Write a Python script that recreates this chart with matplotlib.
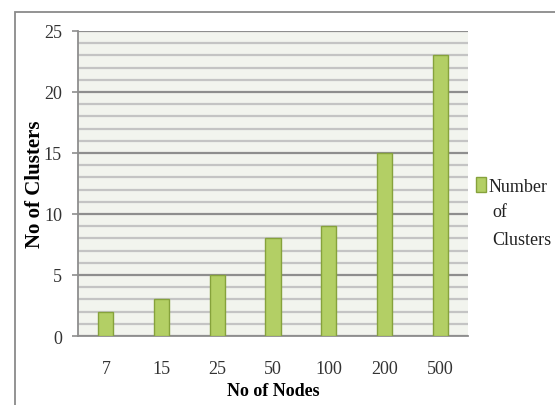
import matplotlib.pyplot as plt
from matplotlib.patches import Rectangle

nodes = ["7", "15", "25", "50", "100", "200", "500"]
clusters = [2, 3, 5, 8, 9, 15, 23]

plt.rcParams["font.family"] = ["Liberation Serif", "DejaVu Serif"]

fig = plt.figure(figsize=(5.55, 4.06), dpi=100, facecolor="white")
W, H = 555, 406

# chart frame (runs off the right and bottom edges)
fig.patches.append(Rectangle((15 / W, -0.05), 1.0, 1 - 13 / H + 0.05,
                             transform=fig.transFigure, fill=False,
                             edgecolor="#8a8a8a", linewidth=1.3))

ax = fig.add_axes([78 / W, 1 - 337 / H, 390 / W, 305 / H])
ax.set_facecolor("#f2f4ee")

x = range(len(nodes))
ax.bar(x, clusters, width=0.27, color="#b3cf65", edgecolor="#86a23c",
       linewidth=1.0, zorder=3, label="Number")

ax.set_xlim(-0.5, len(nodes) - 0.5)
ax.set_ylim(0, 25)
ax.set_yticks(range(0, 26, 5))
ax.set_yticks(range(0, 26, 1), minor=True)
ax.grid(axis="y", which="minor", color="#c4c4c4", linewidth=1.6, zorder=1)
ax.grid(axis="y", which="major", color="#8e8e8e", linewidth=1.6, zorder=2)
ax.set_xticks(list(x))
ax.set_xticklabels(nodes)
ax.tick_params(axis="x", length=0, pad=17, labelsize=13, labelcolor="#333333")
ax.tick_params(axis="y", which="major", length=4.5, width=1.2, color="#8e8e8e",
               labelsize=13, labelcolor="#333333", pad=7)
ax.tick_params(axis="y", which="minor", length=0)

for side in ["top", "right"]:
    ax.spines[side].set_visible(False)
for side in ["left", "bottom"]:
    ax.spines[side].set_color("#8e8e8e")
    ax.spines[side].set_linewidth(1.3)

ax.set_xlabel("No of Nodes", fontsize=13, fontweight="bold", labelpad=4)
ax.set_ylabel("No of Clusters", fontsize=15, fontweight="bold", labelpad=-1)

leg = ax.legend(loc="upper left", bbox_to_anchor=(1.02, 0.52), frameon=False,
                fontsize=13, handlelength=0.55, handleheight=0.9,
                handletextpad=0.15, borderaxespad=0, borderpad=0)
for t in leg.get_texts():
    t.set_color("#222222")
# remaining lines of the legend entry
ax.text(1.063, 0.435, "of\nClusters", transform=ax.transAxes, fontsize=13,
        color="#222222", va="top", ha="left", linespacing=1.85)

fig.savefig("out.png", dpi=100, facecolor="white")
